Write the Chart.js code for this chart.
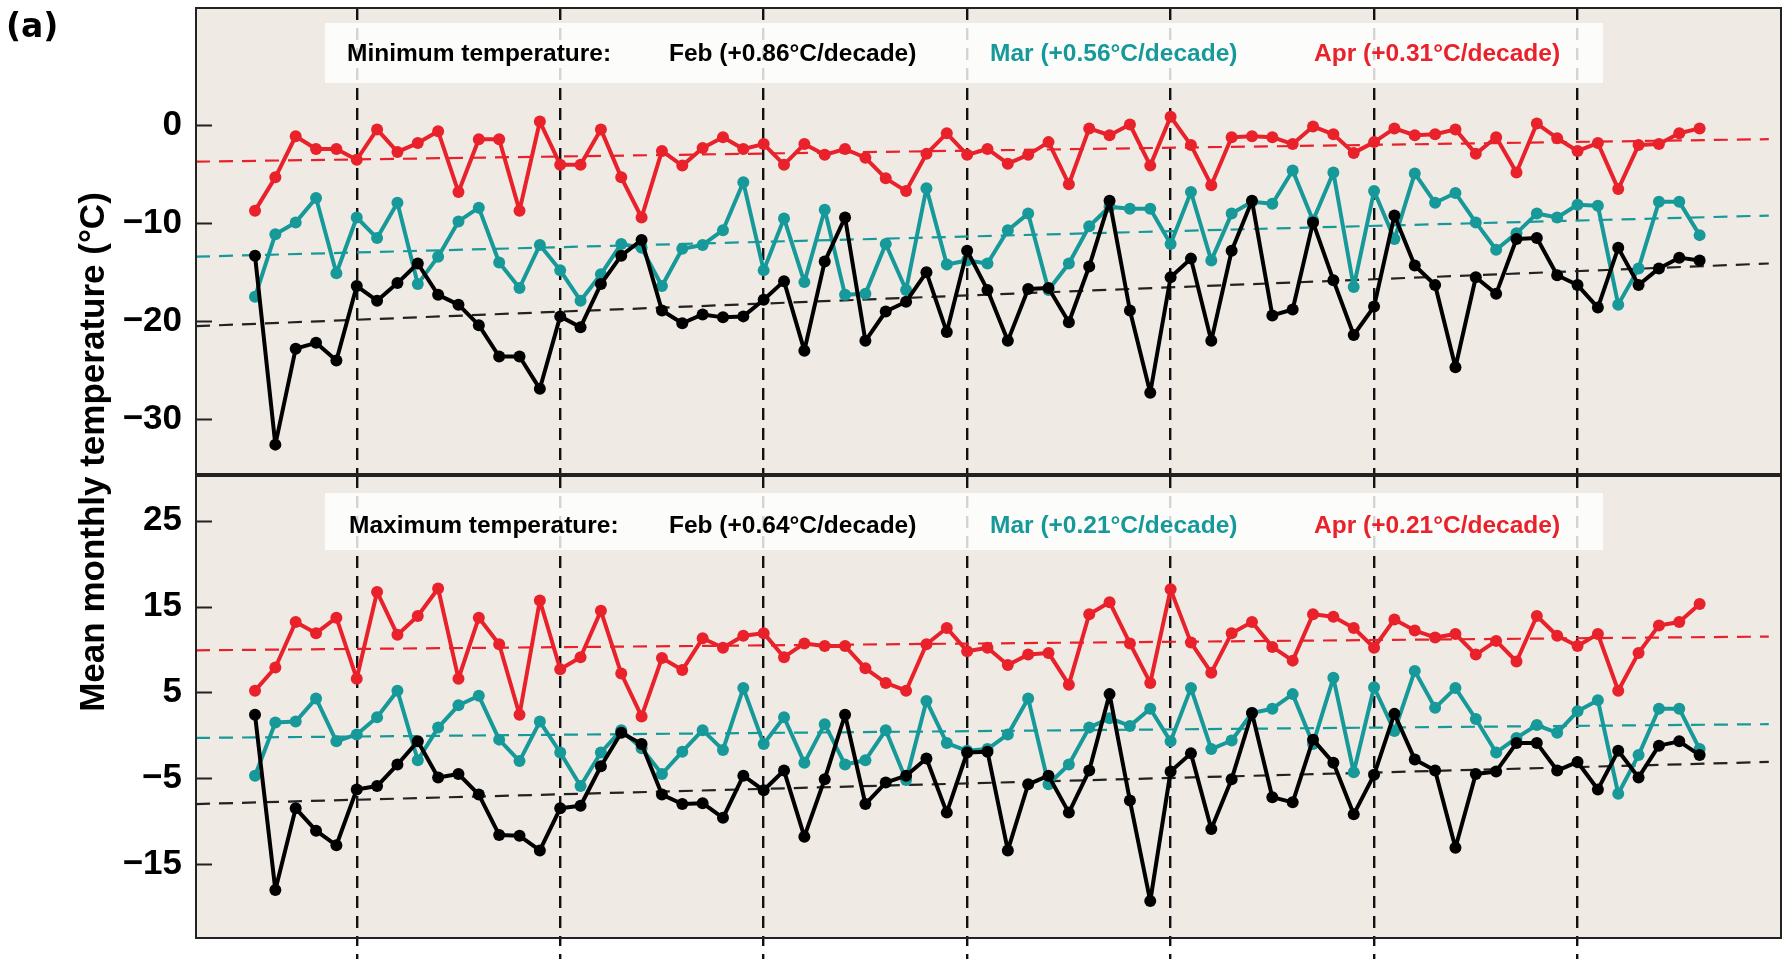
<!DOCTYPE html>
<html>
<head>
<meta charset="utf-8">
<title>Mean monthly temperature</title>
<script src="https://cdn.jsdelivr.net/npm/chart.js@4.4.0/dist/chart.umd.min.js"></script>
<style>
    html, body { margin: 0; padding: 0; background: #fff; }
    body { width: 1787px; height: 959px; position: relative; overflow: hidden; }
    canvas { position: absolute; left: 0; display: block; }
    #minChart { top: 0; }
    #maxChart { top: 470px; }
    .panel-tag { position: absolute; left: 6px; top: 9px; font: bold 33px "DejaVu Sans", sans-serif; line-height: 1; color: #000; }
    .y-title {
        position: absolute; left: -208px; top: 432px; width: 600px; height: 40px;
        line-height: 40px; text-align: center; transform: rotate(-90deg);
        font: bold 35px "Liberation Sans", Arial, sans-serif; color: #000;
    }
    .key { position: absolute; left: 325px; width: 1278px; background: rgba(255, 255, 255, 0.82); }
    .key span { position: absolute; top: 0; white-space: nowrap; font: bold 24.5px "Liberation Sans", Arial, sans-serif; line-height: 30px; }
</style>
</head>
<body>
<canvas id="minChart" width="1787" height="480"></canvas>
<canvas id="maxChart" width="1787" height="489"></canvas>

<div class="panel-tag">(a)</div>
<div class="y-title">Mean monthly temperature (°C)</div>

<div class="key" style="top:23px;height:60px">
    <span style="left:22px;top:15px;color:#000">Minimum temperature:</span>
    <span style="left:344px;top:15px;color:#000">Feb (+0.86°C/decade)</span>
    <span style="left:665px;top:15px;color:#17999a">Mar (+0.56°C/decade)</span>
    <span style="left:989px;top:15px;color:#e8212b">Apr (+0.31°C/decade)</span>
</div>
<div class="key" style="top:493px;height:57px">
    <span style="left:24px;top:17px;color:#000">Maximum temperature:</span>
    <span style="left:344px;top:17px;color:#000">Feb (+0.64°C/decade)</span>
    <span style="left:665px;top:17px;color:#17999a">Mar (+0.21°C/decade)</span>
    <span style="left:989px;top:17px;color:#e8212b">Apr (+0.21°C/decade)</span>
</div>

<script>
// --- data ---
const years = [
    1945, 1946, 1947, 1948, 1949, 1950, 1951, 1952, 1953, 1954,
    1955, 1956, 1957, 1958, 1959, 1960, 1961, 1962, 1963, 1964,
    1965, 1966, 1967, 1968, 1969, 1970, 1971, 1972, 1973, 1974,
    1975, 1976, 1977, 1978, 1979, 1980, 1981, 1982, 1983, 1984,
    1985, 1986, 1987, 1988, 1989, 1990, 1991, 1992, 1993, 1994,
    1995, 1996, 1997, 1998, 1999, 2000, 2001, 2002, 2003, 2004,
    2005, 2006, 2007, 2008, 2009, 2010, 2011, 2012, 2013, 2014,
    2015, 2016
];
const decades = [1950, 1960, 1970, 1980, 1990, 2000, 2010];

// minimum temperature
const febMin = [
    -13.3, -32.6, -22.8, -22.2, -24.0, -16.4, -17.9, -16.1, -14.1, -17.3,
    -18.3, -20.4, -23.6, -23.6, -26.9, -19.5, -20.6, -16.2, -13.3, -11.7,
    -18.9, -20.2, -19.3, -19.6, -19.5, -17.8, -15.9, -23.0, -13.9, -9.4,
    -22.0, -19.0, -18.0, -15.0, -21.1, -12.8, -16.8, -22.0, -16.7, -16.6,
    -20.1, -14.4, -7.7, -18.9, -27.3, -15.5, -13.6, -22.0, -12.8, -7.7,
    -19.4, -18.8, -9.9, -15.8, -21.4, -18.5, -9.2, -14.3, -16.3, -24.7,
    -15.5, -17.2, -11.6, -11.5, -15.3, -16.3, -18.6, -12.5, -16.3, -14.6,
    -13.5, -13.8
];
const marMin = [
    -17.5, -11.1, -9.9, -7.4, -15.1, -9.4, -11.5, -7.9, -16.2, -13.4,
    -9.8, -8.4, -14.0, -16.6, -12.2, -14.8, -17.9, -15.2, -12.1, -12.5,
    -16.4, -12.6, -12.2, -10.7, -5.8, -14.8, -9.5, -16.0, -8.6, -17.3,
    -17.2, -12.1, -16.8, -6.4, -14.2, -13.8, -14.1, -10.7, -9.0, -16.8,
    -14.1, -10.3, -8.3, -8.5, -8.5, -12.1, -6.8, -13.8, -9.0, -7.8,
    -8.0, -4.6, -9.7, -4.8, -16.5, -6.7, -11.6, -4.9, -7.9, -6.9,
    -9.9, -12.7, -11.0, -9.0, -9.4, -8.1, -8.2, -18.3, -14.6, -7.8,
    -7.8, -11.2
];
const aprMin = [
    -8.7, -5.3, -1.1, -2.4, -2.4, -3.5, -0.4, -2.7, -1.8, -0.6,
    -6.8, -1.4, -1.4, -8.7, 0.4, -4.0, -4.0, -0.4, -5.3, -9.4,
    -2.6, -4.1, -2.3, -1.2, -2.4, -1.9, -4.0, -1.9, -3.0, -2.4,
    -3.3, -5.4, -6.7, -2.9, -0.8, -3.0, -2.4, -3.9, -3.0, -1.7,
    -6.0, -0.3, -1.0, 0.1, -4.1, 0.9, -2.0, -6.1, -1.2, -1.1,
    -1.2, -1.9, -0.1, -0.9, -2.8, -1.7, -0.3, -1.0, -0.9, -0.4,
    -2.9, -1.2, -4.8, 0.2, -1.3, -2.6, -1.8, -6.5, -2.0, -1.9,
    -0.8, -0.3
];

// maximum temperature
const febMax = [
    2.4, -18.0, -8.5, -11.1, -12.8, -6.3, -5.9, -3.4, -0.7, -4.9,
    -4.5, -6.9, -11.6, -11.7, -13.4, -8.5, -8.2, -3.6, 0.3, -1.0,
    -6.9, -8.0, -7.9, -9.6, -4.7, -6.4, -4.1, -11.8, -5.1, 2.4,
    -8.0, -5.5, -4.7, -2.7, -9.0, -2.0, -1.9, -13.4, -5.7, -4.7,
    -9.0, -4.1, 4.8, -7.6, -19.3, -4.2, -2.1, -10.9, -5.1, 2.6,
    -7.2, -7.8, -0.5, -3.2, -9.2, -4.6, 2.5, -2.8, -4.1, -13.1,
    -4.5, -4.2, -0.9, -0.9, -4.1, -3.1, -6.3, -1.8, -4.9, -1.2,
    -0.7, -2.3
];
const marMax = [
    -4.7, 1.5, 1.6, 4.3, -0.7, 0.1, 2.1, 5.2, -2.9, 0.9,
    3.5, 4.6, -0.5, -3.0, 1.6, -2.0, -5.9, -2.0, 0.6, -1.5,
    -4.5, -1.9, 0.6, -1.7, 5.5, -1.0, 2.1, -3.2, 1.3, -3.4,
    -2.9, 0.6, -5.2, 4.0, -0.9, -1.8, -1.6, 0.1, 4.3, -5.7,
    -3.4, 0.9, 2.0, 1.1, 3.1, -0.7, 5.5, -1.6, -0.6, 2.6,
    3.1, 4.8, -1.0, 6.7, -4.3, 5.6, 0.5, 7.5, 3.2, 5.5,
    1.9, -2.0, -0.3, 1.2, 0.3, 2.8, 4.1, -6.8, -2.3, 3.1,
    3.1, -1.6
];
const aprMax = [
    5.2, 7.9, 13.2, 11.9, 13.7, 6.6, 16.7, 11.7, 13.9, 17.1,
    6.6, 13.7, 10.6, 2.4, 15.7, 7.7, 9.1, 14.5, 7.2, 2.2,
    9.0, 7.6, 11.3, 10.2, 11.6, 11.9, 9.1, 10.7, 10.4, 10.4,
    7.8, 6.1, 5.2, 10.6, 12.5, 9.8, 10.2, 8.2, 9.4, 9.6,
    5.9, 14.1, 15.5, 10.7, 6.1, 17.0, 10.8, 7.3, 11.9, 13.2,
    10.3, 8.7, 14.1, 13.8, 12.5, 10.2, 13.5, 12.2, 11.4, 11.8,
    9.4, 11.0, 8.6, 13.9, 11.6, 10.4, 11.8, 5.2, 9.6, 12.8,
    13.2, 15.3
];

// linear trends: value at start / end of the plotted span
const trendYears = [1942.1, 2019.4];
const febMinTrend = [-20.5, -14.1];
const marMinTrend = [-13.4, -9.2];
const aprMinTrend = [-3.7, -1.4];
const febMaxTrend = [-8.0, -3.1];
const marMaxTrend = [-0.3, 1.3];
const aprMaxTrend = [9.9, 11.5];

const minTicks = [0, -10, -20, -30];
const maxTicks = [25, 15, 5, -5, -15];

const COLORS = { feb: '#000000', mar: '#17999a', apr: '#e8212b' };

// beige plot area, frame and inward y ticks
const panelFrame = {
    id: 'panelFrame',
    beforeDraw(chart) {
        const a = chart.chartArea;
        const ctx = chart.ctx;
        ctx.save();
        ctx.fillStyle = '#efebe4';
        ctx.fillRect(a.left, a.top, a.right - a.left, a.bottom - a.top);
        ctx.restore();
    },
    afterDraw(chart) {
        const a = chart.chartArea;
        const ctx = chart.ctx;
        const y = chart.scales.y;
        ctx.save();
        ctx.strokeStyle = '#222';
        ctx.lineWidth = 2;
        ctx.strokeRect(a.left, a.top, a.right - a.left, a.bottom - a.top);
        ctx.beginPath();
        y.ticks.forEach(t => {
            const py = Math.round(y.getPixelForValue(t.value)) + 0.5;
            ctx.moveTo(a.left, py);
            ctx.lineTo(a.left + 16, py);
        });
        ctx.stroke();
        ctx.restore();
    }
};

function toPoints(vals) {
    return years.map((yr, i) => ({ x: yr, y: vals[i] }));
}

function seriesSet(vals, color) {
    return {
        data: toPoints(vals),
        borderColor: color,
        backgroundColor: color,
        borderWidth: 4,
        borderJoinStyle: 'round',
        borderCapStyle: 'round',
        pointRadius: 6,
        pointBackgroundColor: color,
        pointBorderWidth: 0,
        tension: 0
    };
}

function trendSet(ends, color) {
    return {
        data: [{ x: trendYears[0], y: ends[0] }, { x: trendYears[1], y: ends[1] }],
        borderColor: color,
        borderWidth: 2.2,
        borderDash: [14, 9],
        pointRadius: 0,
        tension: 0
    };
}

function minus(v) {
    return v < 0 ? '\u2212' + Math.abs(v) : String(v);
}

function makePanel(id, lines, trends, yMin, yMax, yTicks, pad, xHeight) {
    return new Chart(document.getElementById(id), {
        type: 'line',
        data: {
            datasets: [
                seriesSet(lines[0], COLORS.feb),
                seriesSet(lines[1], COLORS.mar),
                seriesSet(lines[2], COLORS.apr),
                trendSet(trends[0], '#222'),
                trendSet(trends[1], COLORS.mar),
                trendSet(trends[2], COLORS.apr)
            ]
        },
        options: {
            responsive: false,
            animation: false,
            devicePixelRatio: 1,
            layout: { padding: pad },
            plugins: { legend: { display: false }, tooltip: { enabled: false } },
            scales: {
                x: {
                    type: 'linear',
                    min: 1942.1,
                    max: 2020,
                    afterBuildTicks: s => { s.ticks = decades.map(v => ({ value: v })); },
                    afterFit: s => {
                        s.height = xHeight;
                        s.paddingLeft = 0;
                        s.paddingRight = 0;
                    },
                    ticks: { display: false },
                    border: { display: false, dash: [12, 8] },
                    grid: {
                        color: '#111',
                        lineWidth: 2.4,
                        drawTicks: xHeight > 0,
                        tickLength: xHeight,
                        tickColor: '#111',
                        tickWidth: 2.4,
                        tickBorderDash: [12, 8],
                        tickBorderDashOffset: 4
                    }
                },
                y: {
                    min: yMin,
                    max: yMax,
                    afterBuildTicks: s => { s.ticks = yTicks.map(v => ({ value: v })); },
                    afterFit: s => {
                        s.width = 196;
                        s.paddingTop = 0;
                        s.paddingBottom = 0;
                    },
                    border: { display: false },
                    grid: { drawOnChartArea: false, drawTicks: false },
                    ticks: {
                        color: '#000',
                        padding: 14,
                        font: { family: 'Liberation Sans', weight: 'bold', size: 35 },
                        callback: v => minus(v)
                    }
                }
            }
        },
        plugins: [panelFrame]
    });
}

document.addEventListener('DOMContentLoaded', () => {
    makePanel('minChart',
        [febMin, marMin, aprMin],
        [febMinTrend, marMinTrend, aprMinTrend],
        -35.6, 12, minTicks,
        { top: 8, right: 3, bottom: 6, left: 0 }, 0);

    makePanel('maxChart',
        [febMax, marMax, aprMax],
        [febMaxTrend, marMaxTrend, aprMaxTrend],
        -23.6, 30.2, maxTicks,
        { top: 4, right: 3, bottom: 0, left: 0 }, 21);
});
</script>
</body>
</html>
